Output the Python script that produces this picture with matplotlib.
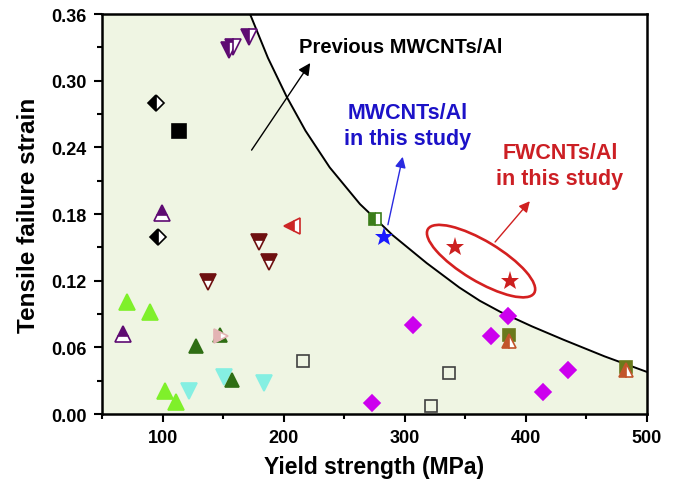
import matplotlib
matplotlib.use("Agg")
import matplotlib.pyplot as plt
import matplotlib.transforms as mtransforms
from matplotlib.patches import Ellipse
from matplotlib.ticker import MultipleLocator

plt.rcParams["font.family"] = ["Liberation Sans", "DejaVu Sans"]
plt.rcParams["font.weight"] = "bold"

# boundary curve (yield strength MPa, strain)
curve_x = [172.2, 187.0, 202.5, 218.0, 238.0, 263.0, 290.0, 318.0, 345.0, 362.0, 379.0, 405.0, 431.0, 465.0, 500.0]
curve_y = [0.360, 0.3205, 0.2855, 0.255, 0.222, 0.189, 0.161, 0.136, 0.114, 0.102, 0.092, 0.079, 0.067, 0.052, 0.038]

light_green_x = [70.9, 89.6, 102.0, 110.8]
light_green_y = [0.101, 0.0915, 0.021, 0.011]
cyan_x = [121.8, 150.7, 184.0]
cyan_y = [0.021, 0.033, 0.028]
dark_green_x = [127.6, 157.0, 147.0]
dark_green_y = [0.0615, 0.0306, 0.071]
purple_down_x = [155.0, 158.5, 171.6]
purple_down_y = [0.328, 0.330, 0.339]
purple_up_x = [67.6, 99.3]
purple_up_y = [0.072, 0.1806]
black_diamond_x = [94.6, 96.0]
black_diamond_y = [0.2797, 0.1596]
black_square_x = [113.6]
black_square_y = [0.2544]
maroon_x = [137.8, 179.6, 187.9]
maroon_y = [0.1185, 0.1545, 0.1365]
red_left_x = [207.0]
red_left_y = [0.1695]
pink_x = [148.5]
pink_y = [0.0705]
gray_sq_x = [215.7, 321.4, 336.5]
gray_sq_y = [0.0474, 0.0075, 0.0366]
green_sq_x = [275.4]
green_sq_y = [0.176]
magenta_x = [272.7, 307.0, 371.0, 385.0, 414.0, 435.0]
magenta_y = [0.0099, 0.0804, 0.070, 0.088, 0.0195, 0.040]
olive_sq_x = [386.0, 482.4]
olive_sq_y = [0.071, 0.042]
brown_tri_x = [386.0, 482.4]
brown_tri_y = [0.066, 0.040]
mw_star_x = [283.1]
mw_star_y = [0.159]
fw_star_x = [341.5, 386.9]
fw_star_y = [0.150, 0.120]

fig = plt.figure(figsize=(6.76, 4.85), dpi=100)
ax = fig.add_axes([0.151, 0.144, 0.806, 0.825])

ax.fill_between([50] + curve_x, 0, [0.36] + curve_y, color="#eff5e3", lw=0, zorder=0)
ax.plot(curve_x, curve_y, color="black", lw=1.4, zorder=2)

kw = dict(ls="none", mew=1.2, zorder=3)
ax.plot(light_green_x, light_green_y, "^", ms=11, color="#7ff02a", mec="#7ff02a", **kw)
ax.plot(cyan_x, cyan_y, "v", ms=11, color="#85efe2", mec="#85efe2", **kw)
ax.plot(dark_green_x, dark_green_y, "^", ms=10, color="#2f6e14", mec="#2f6e14", **kw)
ax.plot(purple_down_x, purple_down_y, "v", ms=12, color="#5e0b72", mec="#5e0b72",
        fillstyle="left", markerfacecoloralt="white", **kw)
ax.plot(purple_up_x, purple_up_y, "^", ms=11, color="#5e0b72", mec="#5e0b72",
        fillstyle="top", markerfacecoloralt="white", **kw)
ax.plot(black_diamond_x, black_diamond_y, "D", ms=8.5, color="black", mec="black",
        fillstyle="left", markerfacecoloralt="white", **kw)
ax.plot(black_square_x, black_square_y, "s", ms=10, color="black", mec="black", **kw)
ax.plot(maroon_x, maroon_y, "v", ms=11, color="#6e1010", mec="#6e1010",
        fillstyle="top", markerfacecoloralt="white", **kw)
ax.plot(red_left_x, red_left_y, "<", ms=11, color="#cc2626", mec="#cc2626",
        fillstyle="left", markerfacecoloralt="white", **kw)
ax.plot(pink_x, pink_y, ">", ms=10, color="#e3b4b4", mec="#e3b4b4",
        fillstyle="left", markerfacecoloralt="white", **kw)
ax.plot(gray_sq_x, gray_sq_y, "s", ms=8, mfc="none", mec="#404040", **kw)
ax.plot(green_sq_x, green_sq_y, "s", ms=8, color="#3b7d1a", mec="#3b7d1a",
        fillstyle="left", markerfacecoloralt="white", **kw)
ax.plot(magenta_x, magenta_y, "D", ms=8.5, color="#cc00ee", mec="#cc00ee", **kw)
ax.plot(olive_sq_x, olive_sq_y, "s", ms=8, color="#6a7a1c", mec="#6a7a1c", **kw)
ax.plot(brown_tri_x, brown_tri_y, "^", ms=10, color="#c2552b", mec="#c2552b",
        fillstyle="left", markerfacecoloralt="white", **kw)
ax.plot(mw_star_x, mw_star_y, "*", ms=14, color="#1a1aff", mec="#1a1aff", mew=0, ls="none", zorder=4)
ax.plot(fw_star_x, fw_star_y, "*", ms=14, color="#cc1f1f", mec="#cc1f1f", mew=0, ls="none", zorder=4)

# annotations
ax.annotate("", xy=(223.2, 0.318), xytext=(172.2, 0.2355),
            arrowprops=dict(arrowstyle="-|>", color="black", lw=1.0, mutation_scale=18))
ax.text(212.7, 0.331, "Previous MWCNTs/Al", fontsize=14.5, fontweight="bold",
        color="black", ha="left", va="center")

ax.annotate("", xy=(298.8, 0.234), xytext=(285.6, 0.168),
            arrowprops=dict(arrowstyle="-|>", color="#2a2ae0", lw=1.0, mutation_scale=16))
ax.text(302.7, 0.260, "MWCNTs/Al\nin this study", fontsize=15.5, fontweight="bold",
        color="#1c12c8", ha="center", va="center", linespacing=1.3)

ax.annotate("", xy=(404.8, 0.1935), xytext=(373.1, 0.153),
            arrowprops=dict(arrowstyle="-|>", color="#d02020", lw=1.0, mutation_scale=16))
ax.text(428.2, 0.224, "FWCNTs/Al\nin this study", fontsize=15.5, fontweight="bold",
        color="#cc1f24", ha="center", va="center", linespacing=1.3)

ell_trans = mtransforms.ScaledTranslation(363.0, 0.1377, ax.transData)
ax.add_patch(Ellipse((0, 0), 124, 40, angle=-31, fill=False, ec="#d42020", lw=1.9,
                     transform=mtransforms.IdentityTransform() + ell_trans, zorder=3))

ax.set_xlim(50, 500)
ax.set_ylim(0, 0.36)
ax.xaxis.set_major_locator(MultipleLocator(100))
ax.xaxis.set_minor_locator(MultipleLocator(50))
ax.yaxis.set_major_locator(MultipleLocator(0.06))
ax.yaxis.set_minor_locator(MultipleLocator(0.03))
ax.yaxis.set_major_formatter(plt.FormatStrFormatter("%.2f"))
ax.tick_params(which="major", direction="out", length=6, width=1.5, pad=5, labelsize=13)
ax.tick_params(which="minor", direction="out", length=3.5, width=1.5)
for s in ax.spines.values():
    s.set_linewidth(1.8)

ax.set_xlabel("Yield strength (MPa)", fontsize=16.5, fontweight="bold", labelpad=6)
ax.set_ylabel("Tensile failure strain", fontsize=17.5, fontweight="bold", labelpad=8)

fig.savefig("out.png", dpi=100)
